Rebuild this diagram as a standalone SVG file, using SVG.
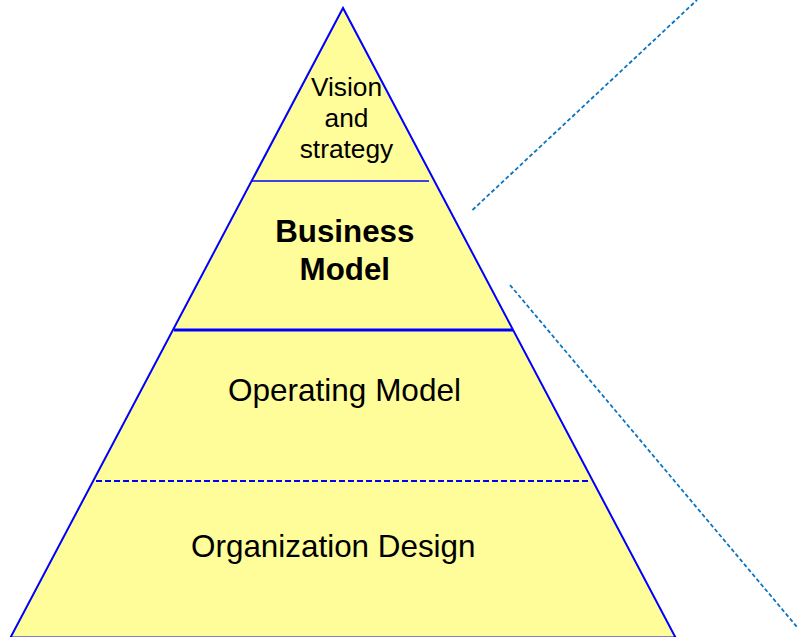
<svg xmlns="http://www.w3.org/2000/svg" width="798" height="637" viewBox="0 0 798 637">
  <style>
    .tri { fill: #FFFD99; stroke: #0000FF; stroke-width: 2; stroke-linejoin: miter; }
    .div { stroke: #0000FF; fill: none; }
    .lbl { font-family: "Liberation Sans", Arial, sans-serif; fill: #000; text-anchor: middle; }
    .lead { stroke: #0B74C0; stroke-width: 1.8; stroke-dasharray: 4 2.5; fill: none; }
  </style>
  <rect width="798" height="637" fill="#FFFFFF"/>

  <!-- pyramid body -->
  <g id="pyramid">
    <polygon class="tri" points="343,8 10.5,637.5 675.5,637.5"/>
  </g>

  <!-- layer dividers -->
  <g id="dividers">
    <line class="div" x1="252" y1="181" x2="429" y2="181" stroke-width="1.6"/>
    <line class="div" x1="174" y1="330" x2="513" y2="330" stroke-width="3"/>
    <line class="div" x1="96" y1="481" x2="590" y2="481" stroke-width="2" stroke-dasharray="6 3"/>
  </g>

  <!-- layer labels -->
  <g id="vision">
    <text class="lbl" font-size="26.3" x="346.5" y="96">Vision</text>
    <text class="lbl" font-size="26.3" x="346.5" y="127">and</text>
    <text class="lbl" font-size="26.3" x="346.5" y="158">strategy</text>
  </g>
  <g id="business-model">
    <text class="lbl" font-size="31.3" font-weight="bold" x="344.8" y="242">Business</text>
    <text class="lbl" font-size="31.3" font-weight="bold" x="344.8" y="280">Model</text>
  </g>
  <g id="operating-model">
    <text class="lbl" font-size="31.5" x="344.5" y="401">Operating Model</text>
  </g>
  <g id="organization-design">
    <text class="lbl" font-size="31.4" x="333.3" y="557">Organization Design</text>
  </g>

  <!-- leader lines fanning out from the business model layer -->
  <g id="connectors">
    <line class="lead" x1="472.5" y1="210" x2="697" y2="0"/>
    <line class="lead" x1="510" y1="285" x2="797" y2="627"/>
  </g>
</svg>
